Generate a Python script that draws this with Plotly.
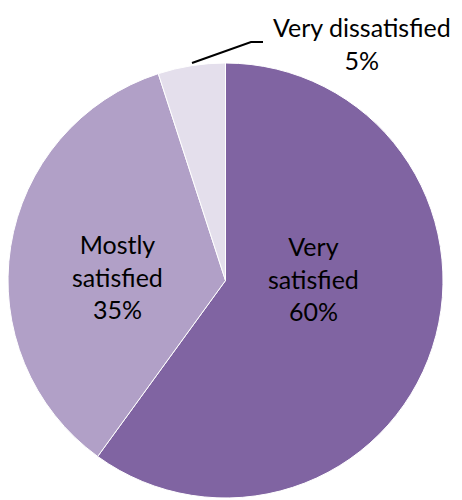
import plotly.graph_objects as go

labels = ["Very satisfied", "Mostly satisfied", "Very dissatisfied"]
values = [60, 35, 5]
colors = ["#8064A2", "#B1A0C7", "#E4DFEC"]

# page body has an 8px margin; work in page pixels and convert
OFF = 8
W, H = 454, 492
cx, cy, r = 225.5, 280.5, 217.5

def px(x):
    return (x - OFF) / W

def py(y):
    return 1 - (y - OFF) / H

fig = go.Figure(go.Pie(
    labels=labels,
    values=values,
    sort=False,
    direction="clockwise",
    rotation=0,
    textinfo="none",
    hoverinfo="label+percent",
    marker=dict(colors=colors, line=dict(color="white", width=1)),
    domain=dict(x=[max(0, px(cx - r)), min(1, px(cx + r))],
                y=[max(0, py(cy + r)), min(1, py(cy - r))]),
    showlegend=False,
))

font = dict(family="Lato", size=25, color="#000000")
label_pos = [(313, 278), (117.5, 276), (362, 43)]
for lab, val, (x, y) in zip(labels, values, label_pos):
    words = lab.split(" ")
    if lab == "Very dissatisfied":
        txt = f"{lab}<br>{val}%"
    else:
        txt = "<br>".join(words) + f"<br>{val}%"
    fig.add_annotation(x=px(x), y=py(y), xref="paper", yref="paper",
                       text=txt, showarrow=False, font=font,
                       xanchor="center", yanchor="middle", align="center")

# leader line for small slice
fig.add_shape(type="path", xref="paper", yref="paper",
              path=f"M {px(192)} {py(63)} L {px(251)} {py(42)} L {px(263)} {py(42)}",
              line=dict(color="black", width=2))

fig.update_layout(width=W, height=H, margin=dict(l=0, r=0, t=0, b=0),
                  paper_bgcolor="white", plot_bgcolor="white")
fig.write_html("out.html")
